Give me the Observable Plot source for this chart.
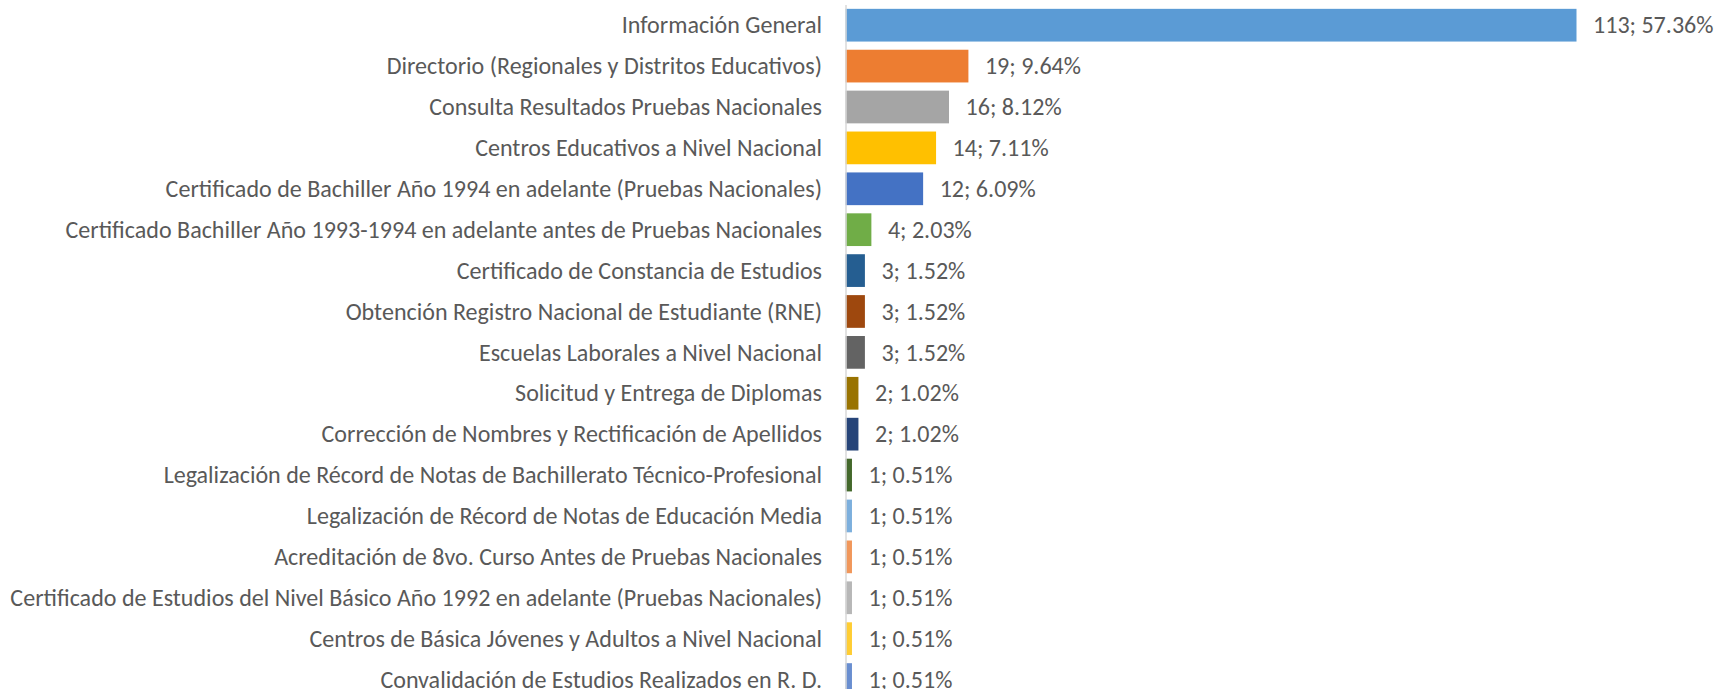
<!DOCTYPE html>
<html>
<head>
<meta charset="utf-8">
<script src="https://cdn.jsdelivr.net/npm/d3@7"></script>
<script src="https://cdn.jsdelivr.net/npm/@observablehq/plot@0.6"></script>
<style>
  html, body { margin: 0; padding: 0; background: #fff; overflow: hidden; }
  #chart svg { display: block; }
</style>
</head>
<body>
<div id="chart"></div>
<script>
const categories = [
  "Información General",
  "Directorio (Regionales y Distritos Educativos)",
  "Consulta Resultados Pruebas Nacionales",
  "Centros Educativos a Nivel Nacional",
  "Certificado de Bachiller Año 1994 en adelante (Pruebas Nacionales)",
  "Certificado Bachiller Año 1993-1994 en adelante antes de Pruebas Nacionales",
  "Certificado de Constancia de Estudios",
  "Obtención Registro Nacional de Estudiante (RNE)",
  "Escuelas Laborales a Nivel Nacional",
  "Solicitud y Entrega de Diplomas",
  "Corrección de Nombres y Rectificación de Apellidos",
  "Legalización de Récord de Notas de Bachillerato Técnico-Profesional",
  "Legalización de Récord de Notas de Educación Media",
  "Acreditación de 8vo. Curso Antes de Pruebas Nacionales",
  "Certificado de Estudios del Nivel Básico Año 1992 en adelante (Pruebas Nacionales)",
  "Centros de Básica Jóvenes y Adultos a Nivel Nacional",
  "Convalidación de Estudios Realizados en R. D."
];
const counts = [113, 19, 16, 14, 12, 4, 3, 3, 3, 2, 2, 1, 1, 1, 1, 1, 1];
const percents = ["57.36%", "9.64%", "8.12%", "7.11%", "6.09%", "2.03%", "1.52%", "1.52%", "1.52%", "1.02%", "1.02%", "0.51%", "0.51%", "0.51%", "0.51%", "0.51%", "0.51%"];
const colors = ["#5B9BD5", "#ED7D31", "#A5A5A5", "#FFC000", "#4472C4", "#70AD47", "#255E91", "#9E480E", "#636363", "#997300", "#264478", "#43682B", "#7CAFDD", "#F1975A", "#B7B7B7", "#FFCD33", "#698ED0"];

const data = categories.map((c, i) => ({
  category: c,
  count: counts[i],
  label: counts[i] + "; " + percents[i],
  color: colors[i]
}));

const fontFamily = "Carlito, Calibri, Lato, 'Open Sans', sans-serif";
// fit font size so the longest category label spans the same width as the reference
const ctx = document.createElement("canvas").getContext("2d");
ctx.font = "20px " + fontFamily;
const longest = d3.max(categories, c => ctx.measureText(c).width);
const fontSize = Math.min(25, 20 * 812 / longest);

const chart = Plot.plot({
  width: 1717,
  height: 689,
  marginTop: 5,
  marginBottom: 0,
  marginLeft: 0,
  marginRight: 0,
  style: { fontFamily, fontSize: fontSize + "px", background: "#fff" },
  x: { domain: [0, 113], range: [845.5, 1576.5], axis: null },
  y: { domain: categories, range: [4.75, 700], paddingInner: 0.2, paddingOuter: 0.1, round: false, axis: null },
  color: { type: "identity" },
  marks: [
    Plot.barX(data, { y: "category", x: "count", fill: "color" }),
    Plot.ruleX([0], { stroke: "#D9D9D9", strokeWidth: 1.5 }),
    Plot.text(data, { y: "category", x: () => 0, text: "category", textAnchor: "end", dx: -24, fill: "#595959" }),
    Plot.text(data, { y: "category", x: "count", text: "label", textAnchor: "start", dx: 16, fill: "#595959" })
  ]
});
document.getElementById("chart").appendChild(chart);
</script>
</body>
</html>
